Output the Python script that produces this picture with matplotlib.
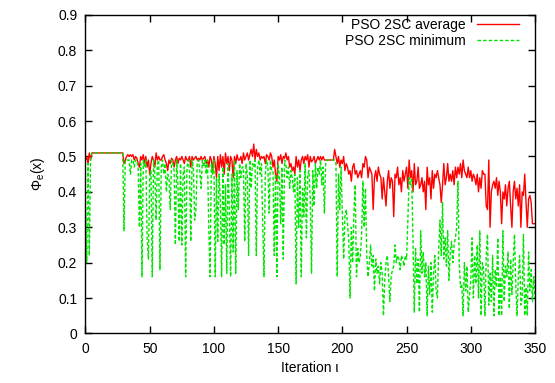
import numpy as np
import matplotlib
matplotlib.use("Agg")
import matplotlib.pyplot as plt
from matplotlib.ticker import FuncFormatter

iterations = list(range(0, 351))

pso_average = [
    0.49, 0.50, 0.48, 0.51, 0.49, 0.51, 0.51, 0.51, 0.51, 0.51,
    0.51, 0.51, 0.51, 0.51, 0.51, 0.51, 0.51, 0.51, 0.51, 0.51,
    0.51, 0.51, 0.51, 0.51, 0.51, 0.51, 0.51, 0.51, 0.51, 0.51,
    0.48, 0.49, 0.50, 0.505, 0.50, 0.505, 0.50, 0.505, 0.49, 0.50,
    0.495, 0.48, 0.47, 0.50, 0.49, 0.505, 0.48, 0.50, 0.47, 0.49,
    0.45, 0.48, 0.50, 0.49, 0.47, 0.51, 0.49, 0.50, 0.49, 0.49,
    0.50, 0.505, 0.49, 0.48, 0.46, 0.49, 0.48, 0.495, 0.49, 0.47,
    0.49, 0.50, 0.48, 0.495, 0.49, 0.50, 0.49, 0.48, 0.50, 0.49,
    0.49, 0.50, 0.47, 0.50, 0.49, 0.495, 0.50, 0.49, 0.495, 0.49,
    0.50, 0.49, 0.495, 0.50, 0.48, 0.49, 0.47, 0.50, 0.49, 0.46,
    0.50, 0.48, 0.44, 0.50, 0.46, 0.505, 0.47, 0.50, 0.45, 0.51,
    0.48, 0.50, 0.46, 0.50, 0.49, 0.44, 0.50, 0.48, 0.505, 0.49,
    0.49, 0.50, 0.48, 0.51, 0.49, 0.50, 0.51, 0.49, 0.505, 0.52,
    0.50, 0.535, 0.49, 0.52, 0.50, 0.51, 0.49, 0.50, 0.495, 0.50,
    0.48, 0.505, 0.50, 0.49, 0.51, 0.50, 0.47, 0.49, 0.45, 0.43,
    0.50, 0.49, 0.505, 0.48, 0.50, 0.495, 0.51, 0.49, 0.50, 0.47,
    0.48, 0.46, 0.47, 0.45, 0.50, 0.47, 0.49, 0.46, 0.49, 0.50,
    0.48, 0.50, 0.49, 0.505, 0.47, 0.50, 0.485, 0.49, 0.50, 0.48,
    0.49, 0.50, 0.49, 0.50, 0.49, 0.50, 0.49, 0.49, 0.49, 0.49,
    0.49, 0.49, 0.49, 0.49, 0.52, 0.50, 0.48, 0.50, 0.47, 0.49,
    0.48, 0.50, 0.46, 0.48, 0.47, 0.45, 0.46, 0.43, 0.47, 0.48,
    0.45, 0.46, 0.44, 0.45, 0.46, 0.44, 0.48, 0.47, 0.50, 0.49,
    0.44, 0.47, 0.46, 0.45, 0.35, 0.44, 0.46, 0.43, 0.47, 0.45,
    0.44, 0.38, 0.44, 0.40, 0.36, 0.43, 0.46, 0.41, 0.44, 0.43,
    0.33, 0.45, 0.44, 0.47, 0.42, 0.44, 0.40, 0.46, 0.43, 0.45,
    0.47, 0.41, 0.49, 0.44, 0.46, 0.40, 0.48, 0.42, 0.43, 0.47,
    0.41, 0.42, 0.44, 0.40, 0.43, 0.35, 0.47, 0.42, 0.44, 0.38,
    0.46, 0.41, 0.45, 0.44, 0.46, 0.44, 0.42, 0.37, 0.42, 0.48,
    0.42, 0.44, 0.48, 0.43, 0.45, 0.43, 0.46, 0.42, 0.47, 0.44,
    0.47, 0.45, 0.48, 0.44, 0.49, 0.46, 0.45, 0.44, 0.47, 0.44,
    0.46, 0.43, 0.45, 0.44, 0.42, 0.45, 0.40, 0.44, 0.41, 0.46,
    0.45, 0.45, 0.36, 0.35, 0.49, 0.30, 0.40, 0.42, 0.43, 0.41,
    0.44, 0.39, 0.43, 0.40, 0.31, 0.40, 0.38, 0.42, 0.36, 0.41,
    0.43, 0.36, 0.30, 0.40, 0.43, 0.38, 0.41, 0.36, 0.42, 0.30,
    0.40, 0.39, 0.45, 0.37, 0.30, 0.38, 0.39, 0.37, 0.31, 0.31,
    0.31,
]

pso_minimum = [
    0.35, 0.20, 0.48, 0.22, 0.50, 0.51, 0.51, 0.51, 0.51, 0.51,
    0.51, 0.51, 0.51, 0.51, 0.51, 0.51, 0.51, 0.51, 0.51, 0.51,
    0.51, 0.51, 0.51, 0.51, 0.51, 0.51, 0.51, 0.51, 0.51, 0.51,
    0.29, 0.49, 0.49, 0.49, 0.49, 0.45, 0.49, 0.49, 0.47, 0.49,
    0.49, 0.47, 0.30, 0.48, 0.16, 0.49, 0.47, 0.49, 0.27, 0.21,
    0.44, 0.46, 0.16, 0.49, 0.45, 0.32, 0.48, 0.49, 0.18, 0.47,
    0.49, 0.45, 0.48, 0.40, 0.45, 0.44, 0.35, 0.49, 0.48, 0.46,
    0.25, 0.49, 0.42, 0.26, 0.48, 0.25, 0.45, 0.47, 0.16, 0.47,
    0.49, 0.46, 0.26, 0.49, 0.47, 0.32, 0.35, 0.48, 0.49, 0.46,
    0.41, 0.49, 0.47, 0.49, 0.45, 0.49, 0.30, 0.16, 0.48, 0.45,
    0.49, 0.16, 0.44, 0.26, 0.45, 0.38, 0.16, 0.47, 0.25, 0.42,
    0.17, 0.48, 0.35, 0.16, 0.45, 0.23, 0.49, 0.17, 0.46, 0.35,
    0.48, 0.44, 0.47, 0.47, 0.26, 0.48, 0.45, 0.22, 0.49, 0.41,
    0.48, 0.47, 0.49, 0.22, 0.47, 0.49, 0.45, 0.48, 0.31, 0.16,
    0.45, 0.49, 0.47, 0.34, 0.49, 0.46, 0.46, 0.22, 0.45, 0.16,
    0.48, 0.44, 0.31, 0.47, 0.21, 0.49, 0.48, 0.44, 0.47, 0.41,
    0.46, 0.44, 0.40, 0.45, 0.14, 0.44, 0.30, 0.46, 0.16, 0.41,
    0.33, 0.48, 0.27, 0.45, 0.46, 0.38, 0.17, 0.46, 0.36, 0.48,
    0.41, 0.47, 0.45, 0.49, 0.42, 0.47, 0.34, 0.48, 0.49, 0.49,
    0.49, 0.49, 0.49, 0.49, 0.49, 0.48, 0.16, 0.45, 0.35, 0.47,
    0.34, 0.21, 0.33, 0.35, 0.31, 0.26, 0.10, 0.30, 0.20, 0.34,
    0.42, 0.16, 0.24, 0.20, 0.22, 0.28, 0.43, 0.30, 0.41, 0.22,
    0.16, 0.20, 0.25, 0.19, 0.22, 0.12, 0.21, 0.17, 0.19, 0.14,
    0.20, 0.17, 0.05, 0.15, 0.20, 0.22, 0.16, 0.09, 0.16, 0.18,
    0.19, 0.25, 0.20, 0.22, 0.21, 0.18, 0.22, 0.21, 0.19, 0.22,
    0.21, 0.32, 0.44, 0.42, 0.44, 0.26, 0.06, 0.24, 0.14, 0.21,
    0.06, 0.29, 0.17, 0.23, 0.16, 0.20, 0.05, 0.19, 0.11, 0.20,
    0.06, 0.17, 0.22, 0.12, 0.10, 0.24, 0.32, 0.22, 0.37, 0.21,
    0.27, 0.19, 0.29, 0.15, 0.23, 0.26, 0.20, 0.25, 0.27, 0.30,
    0.43, 0.20, 0.13, 0.14, 0.05, 0.20, 0.12, 0.19, 0.06, 0.11,
    0.15, 0.27, 0.10, 0.22, 0.14, 0.25, 0.10, 0.29, 0.05, 0.20,
    0.18, 0.05, 0.22, 0.28, 0.08, 0.17, 0.09, 0.22, 0.05, 0.18,
    0.13, 0.27, 0.05, 0.16, 0.05, 0.29, 0.09, 0.19, 0.16, 0.23,
    0.07, 0.21, 0.11, 0.20, 0.28, 0.14, 0.05, 0.16, 0.22, 0.08,
    0.10, 0.28, 0.05, 0.13, 0.05, 0.23, 0.12, 0.18, 0.09, 0.16,
    0.10,
]

x_ticks = [0, 50, 100, 150, 200, 250, 300, 350]
y_ticks = [0, 0.1, 0.2, 0.3, 0.4, 0.5, 0.6, 0.7, 0.8, 0.9]

plt.rcParams['font.family'] = ['Liberation Sans', 'DejaVu Sans']
plt.rcParams['font.size'] = 10
plt.rcParams['mathtext.fontset'] = 'custom'
plt.rcParams['mathtext.rm'] = 'Liberation Sans'
plt.rcParams['mathtext.it'] = 'Liberation Sans'

fig = plt.figure(figsize=(5.55, 3.83), dpi=100)
ax = fig.add_axes([0.154, 0.1295, 0.81, 0.8315])

ax.plot(iterations, pso_average, color='#ff0000', lw=1.0, label='PSO 2SC average')
ax.plot(iterations, pso_minimum, color='#00e600', lw=1.0, dashes=(2.5, 1.5),
        label='PSO 2SC minimum')

ax.set_xlim(0, 350)
ax.set_ylim(0, 0.9)
ax.set_xticks(x_ticks)
ax.set_yticks(y_ticks)
ax.yaxis.set_major_formatter(FuncFormatter(lambda v, p: '0' if v == 0 else f'{v:g}'))
ax.tick_params(direction='in', top=True, right=True, length=5, width=1, pad=6)
for s in ax.spines.values():
    s.set_linewidth(1.0)

ax.set_xlabel('Iteration ι', labelpad=4)
ax.set_ylabel(r'$\Phi_{\rm e}(\rm x)$', labelpad=8)

leg = ax.legend(loc='upper right', bbox_to_anchor=(0.982, 1.018), frameon=False,
                markerfirst=False, handlelength=3.0, handletextpad=0.8,
                borderaxespad=0.2, labelspacing=0.2, fontsize=10)

fig.savefig('out.png', dpi=100)
